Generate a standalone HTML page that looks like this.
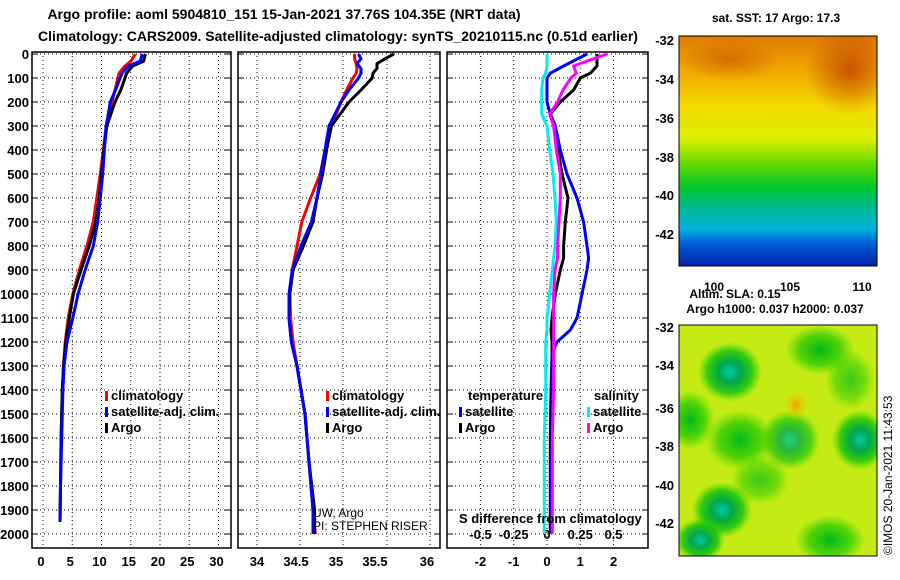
<!DOCTYPE html>
<html><head><meta charset="utf-8"><style>
body{margin:0;background:#fff;}
svg{display:block;font-family:"Liberation Sans",sans-serif;font-weight:bold;}
text{font-size:13px;fill:#000;}
</style></head><body>
<svg id="chart" width="900" height="580" viewBox="0 0 900 580">
<defs>
<linearGradient id="sstg" x1="0" y1="0" x2="0" y2="1">
<stop offset="0" stop-color="#e07a00"/><stop offset="0.15" stop-color="#f0a800"/><stop offset="0.3" stop-color="#f5d800"/><stop offset="0.45" stop-color="#d8f000"/><stop offset="0.56" stop-color="#60d800"/><stop offset="0.66" stop-color="#00c830"/><stop offset="0.74" stop-color="#00b888"/><stop offset="0.84" stop-color="#00b4e0"/><stop offset="0.9" stop-color="#0060d8"/><stop offset="1" stop-color="#0020a8"/>
</linearGradient>
<radialGradient id="hot" cx="0.5" cy="0.5" r="0.5"><stop offset="0" stop-color="#c04000" stop-opacity="0.8"/><stop offset="1" stop-color="#c04000" stop-opacity="0"/></radialGradient>
<radialGradient id="blob" cx="0.5" cy="0.5" r="0.5"><stop offset="0" stop-color="#00c8b0"/><stop offset="0.35" stop-color="#00a848"/><stop offset="0.7" stop-color="#10c010" stop-opacity="0.8"/><stop offset="1" stop-color="#30d000" stop-opacity="0"/></radialGradient>
<radialGradient id="gblob" cx="0.5" cy="0.5" r="0.5"><stop offset="0" stop-color="#00b820"/><stop offset="0.6" stop-color="#20c800" stop-opacity="0.7"/><stop offset="1" stop-color="#40d000" stop-opacity="0"/></radialGradient>
<radialGradient id="oblob" cx="0.5" cy="0.5" r="0.5"><stop offset="0" stop-color="#f0a000"/><stop offset="1" stop-color="#e0e800" stop-opacity="0"/></radialGradient>
<clipPath id="c1"><rect x="679" y="36" width="198" height="230"/></clipPath>
<clipPath id="c2"><rect x="679" y="325" width="198" height="231"/></clipPath>
</defs>
<text x="284" y="19" text-anchor="middle" style="font-size:14px">Argo profile: aoml 5904810_151 15-Jan-2021 37.76S 104.35E (NRT data)</text>
<text x="338" y="41" text-anchor="middle" style="font-size:14px">Climatology: CARS2009. Satellite-adjusted climatology: synTS_20210115.nc (0.51d earlier)</text>
<g id="panels"></g>
<g id="maps">
<text x="776" y="22" text-anchor="middle" style="font-size:12px">sat. SST: 17 Argo: 17.3</text>
<g clip-path="url(#c1)">
<rect x="679" y="36" width="198" height="230" fill="url(#sstg)"/>
<ellipse cx="850" cy="70" rx="45" ry="45" fill="url(#hot)"/>
<ellipse cx="730" cy="60" rx="50" ry="22" fill="url(#hot)" opacity="0.6"/>
</g>
<rect x="679" y="36" width="198" height="230" fill="none" stroke="#000"/>
<text x="714" y="291" text-anchor="middle" style="font-size:12px">100</text>
<text x="790" y="291" text-anchor="middle" style="font-size:12px">105</text>
<text x="862" y="291" text-anchor="middle" style="font-size:12px">110</text>
<text x="735" y="298" text-anchor="middle" style="font-size:12px">Altim. SLA: 0.15</text>
<text x="775" y="313" text-anchor="middle" style="font-size:12px">Argo h1000: 0.037 h2000: 0.037</text>
<g clip-path="url(#c2)">
<rect x="679" y="325" width="198" height="231" fill="#c4ec14"/>
<ellipse cx="730" cy="372" rx="32" ry="30" fill="url(#blob)"/>
<ellipse cx="860" cy="440" rx="28" ry="30" fill="url(#blob)"/>
<ellipse cx="722" cy="510" rx="30" ry="28" fill="url(#blob)"/>
<ellipse cx="790" cy="440" rx="30" ry="30" fill="url(#blob)" opacity="0.8"/>
<ellipse cx="700" cy="540" rx="25" ry="22" fill="url(#blob)"/>
<ellipse cx="740" cy="440" rx="35" ry="30" fill="url(#gblob)"/>
<ellipse cx="820" cy="350" rx="35" ry="25" fill="url(#gblob)"/>
<ellipse cx="690" cy="420" rx="25" ry="30" fill="url(#gblob)"/>
<ellipse cx="830" cy="540" rx="35" ry="25" fill="url(#gblob)"/>
<ellipse cx="760" cy="480" rx="30" ry="25" fill="url(#gblob)" opacity="0.7"/>
<ellipse cx="850" cy="380" rx="25" ry="30" fill="url(#gblob)" opacity="0.7"/>
<ellipse cx="796" cy="405" rx="14" ry="16" fill="url(#oblob)"/>
</g>
<rect x="679" y="325" width="198" height="231" fill="none" stroke="#000"/>
<text transform="translate(892,555) rotate(-90)" style="font-size:12px;font-weight:normal">©IMOS 20-Jan-2021 11:43:53</text>
</g>
</svg>
<script>
// Temperature profile (depth, T)
const tDepth = [0,30,50,80,150,200,300,400,500,600,700,800,900,1000,1100,1200,1300,1400,1500,1600,1800,1950];
const tArgo  = [17.5,17.2,15.3,14.3,13.3,12.3,10.9,10.4,10.0,9.6,9.0,7.9,6.5,5.2,4.5,3.9,3.5,3.3,3.2,3.1,3.0,2.9];
const tClim  = [15.8,15.0,14.0,13.0,12.3,11.8,10.8,10.3,9.8,9.2,8.6,7.5,6.2,5.1,4.3,3.8,3.5,3.3,3.2,3.1,3.0,2.9];
const tSat   = [17.0,16.6,14.6,13.5,12.4,11.5,10.8,10.5,10.2,9.8,9.35,8.6,7.2,6.0,5.1,4.1,3.6,3.4,3.3,3.2,3.0,2.9];
// Salinity profile
const sDepth = [0,20,40,60,80,100,150,200,300,400,500,600,700,800,900,1000,1100,1200,1300,1400,1500,1700,1900,2000];
const sArgo  = [35.71,35.6,35.5,35.5,35.45,35.44,35.3,35.15,34.93,34.87,34.82,34.75,34.7,34.58,34.45,34.41,34.4,34.43,34.5,34.55,34.6,34.65,34.72,34.72];
const sClim  = [35.22,35.22,35.24,35.25,35.24,35.2,35.12,35.05,34.93,34.85,34.79,34.67,34.56,34.5,34.44,34.41,34.42,34.45,34.5,34.55,34.6,34.65,34.7,34.73];
const sSat   = [35.27,35.3,35.25,35.3,35.3,35.27,35.15,35.05,34.9,34.85,34.8,34.75,34.68,34.55,34.44,34.4,34.4,34.43,34.5,34.55,34.6,34.65,34.7,34.7];
// Differences
const dDepth = [0,50,80,100,150,200,250,300,400,500,600,700,800,850,900,1000,1100,1150,1200,1250,1400,1600,1800,2000];
const dTArgo = [1.5,1.5,1.3,1.0,0.8,0.4,0.1,0.25,0.33,0.45,0.63,0.55,0.5,0.5,0.4,0.25,0.15,0.12,0.15,0.15,0.12,0.1,0.1,0.1];
const dTSat  = [1.2,0.5,0.1,0.0,0.0,0.0,0.1,0.25,0.4,0.6,0.9,1.1,1.2,1.25,1.2,1.05,0.9,0.7,0.3,0.15,0.15,0.15,0.12,0.15];
const dSArgo = [0.45,0.2,0.22,0.18,0.12,0.08,0.02,0.05,0.07,0.1,0.1,0.09,0.08,0.08,0.06,0.05,0.05,0.05,0.05,0.05,0.05,0.04,0.04,0.04];
const dSSat  = [0.0,0.0,-0.01,-0.03,-0.04,-0.04,-0.04,0.0,0.02,0.045,0.06,0.07,0.06,0.05,0.04,0.02,0.0,0.0,-0.01,-0.01,-0.01,-0.02,-0.02,-0.02];
const depthTicks = [0,100,200,300,400,500,600,700,800,900,1000,1100,1200,1300,1400,1500,1600,1700,1800,1900,2000];
const tTicks = [0,5,10,15,20,25,30];
const sTicks = [34,34.5,35,35.5,36];
const dTicks = [-2,-1,0,1,2];
const dSTicks = [-0.5,-0.25,0,0.25,0.5];

const NS='http://www.w3.org/2000/svg';
const g=document.getElementById('panels');
const Y=d=>54+d*0.24;
const xT=v=>43+v*5.85;
const xS=v=>257+(v-34)*80;
const xD=v=>547+v*33.3;
const xDS=v=>547+v*133;
function mk(tag,at,parent){const e=document.createElementNS(NS,tag);for(const k in at)e.setAttribute(k,at[k]);(parent||g).appendChild(e);return e;}
function txt(x,y,s,anchor,parent){const e=mk('text',{x:x,y:y,'text-anchor':anchor||'middle'},parent);e.textContent=s;return e;}
function line(xs,ys,col,name,xf){
  let p='';for(let i=0;i<ys.length;i++){p+=xf(xs[i]).toFixed(1)+','+Y(ys[i]).toFixed(1)+' ';}
  const e=mk('polyline',{points:p,fill:'none',stroke:col,'stroke-width':3,'stroke-linejoin':'round'});
  
  
}
function panel(x0,x1,name,gridXs){
  const pg=mk('g',{});
  
  
  mk('rect',{x:x0,y:52,width:x1-x0,height:496,fill:'#fff',stroke:'#000','stroke-width':1.5},pg);
  depthTicks.forEach(d=>{mk('line',{x1:x0,x2:x1,y1:Y(d),y2:Y(d),stroke:'#000','stroke-dasharray':'1,3'},pg);mk('line',{x1:x0,x2:x0+6,y1:Y(d),y2:Y(d),stroke:'#000'},pg);mk('line',{x1:x1-6,x2:x1,y1:Y(d),y2:Y(d),stroke:'#000'},pg);});
  gridXs.forEach(x=>mk('line',{x1:x,x2:x,y1:52,y2:548,stroke:'#000','stroke-dasharray':'1,3'},pg));
  return pg;
}
// Panel 1
panel(32,231,'temperature-panel',tTicks.map(xT));
depthTicks.forEach(d=>{const t=txt(29,Y(d)+5,String(d),'end');});
tTicks.forEach(v=>{const t=txt(xT(v)-2,566,String(v));});
line(tClim,tDepth,'#f00','temp-climatology-line',xT);
line(tArgo,tDepth,'#000','temp-argo-line',xT);
line(tSat,tDepth,'#00f','temp-satellite-line',xT);
// Panel 2
panel(238,440,'salinity-panel',[257,300,343,387,430]);
sTicks.forEach((v,i)=>{const t=txt([257,296,336,375,427][i],566,String(v));});
line(sClim,sDepth,'#f00','sal-climatology-line',xS);
line(sArgo,sDepth,'#000','sal-argo-line',xS);
line(sSat,sDepth,'#00f','sal-satellite-line',xS);
// Panel 3
panel(447,648,'difference-panel',dTicks.map(xD));
dTicks.forEach(v=>{const t=txt(xD(v),566,String(v));});
dSTicks.forEach(v=>{const t=txt(xDS(v),539,String(v));});
line(dSSat,dDepth,'#0ee','sal-diff-satellite-line',xDS);
line(dTArgo,dDepth,'#000','temp-diff-argo-line',xD);
line(dTSat,dDepth,'#00f','temp-diff-satellite-line',xD);
line(dSArgo,dDepth,'#f0f','sal-diff-argo-line',xDS);
// Legends
function leg(x,y,col,label){mk('rect',{x:x,y:y-9,width:3,height:10,fill:col});const t=txt(x+6,y,label,'start');}
leg(105,400,'#f00','climatology');leg(105,416,'#00f','satellite-adj. clim.');leg(105,432,'#000','Argo');
leg(326,400,'#f00','climatology');leg(326,416,'#00f','satellite-adj. clim.');leg(326,432,'#000','Argo');
txt(468,400,'temperature','start');txt(594,400,'salinity','start');
leg(459,416,'#00f','satellite');leg(459,432,'#000','Argo');
leg(587,416,'#0ee','satellite');leg(587,432,'#f0f','Argo');
const s1=txt(459,523,'S difference from climatology','start');
const u1=mk('text',{x:313,y:517,'text-anchor':'start',style:'font-size:12px;font-weight:normal'});u1.textContent='UW, Argo';
const u2=mk('text',{x:313,y:530,'text-anchor':'start',style:'font-size:12px;font-weight:normal'});u2.textContent='PI: STEPHEN RISER';
// map labels
const mg=document.getElementById('maps');
[-32,-34,-36,-38,-40,-42].forEach((v,i)=>{txt(674,[45,84,123,162,200,239][i],String(v),'end',mg);});
[-32,-34,-36,-38,-40,-42].forEach((v,i)=>{txt(674,[332,370,413,451,490,528][i],String(v),'end',mg);});
</script>
</body></html>
